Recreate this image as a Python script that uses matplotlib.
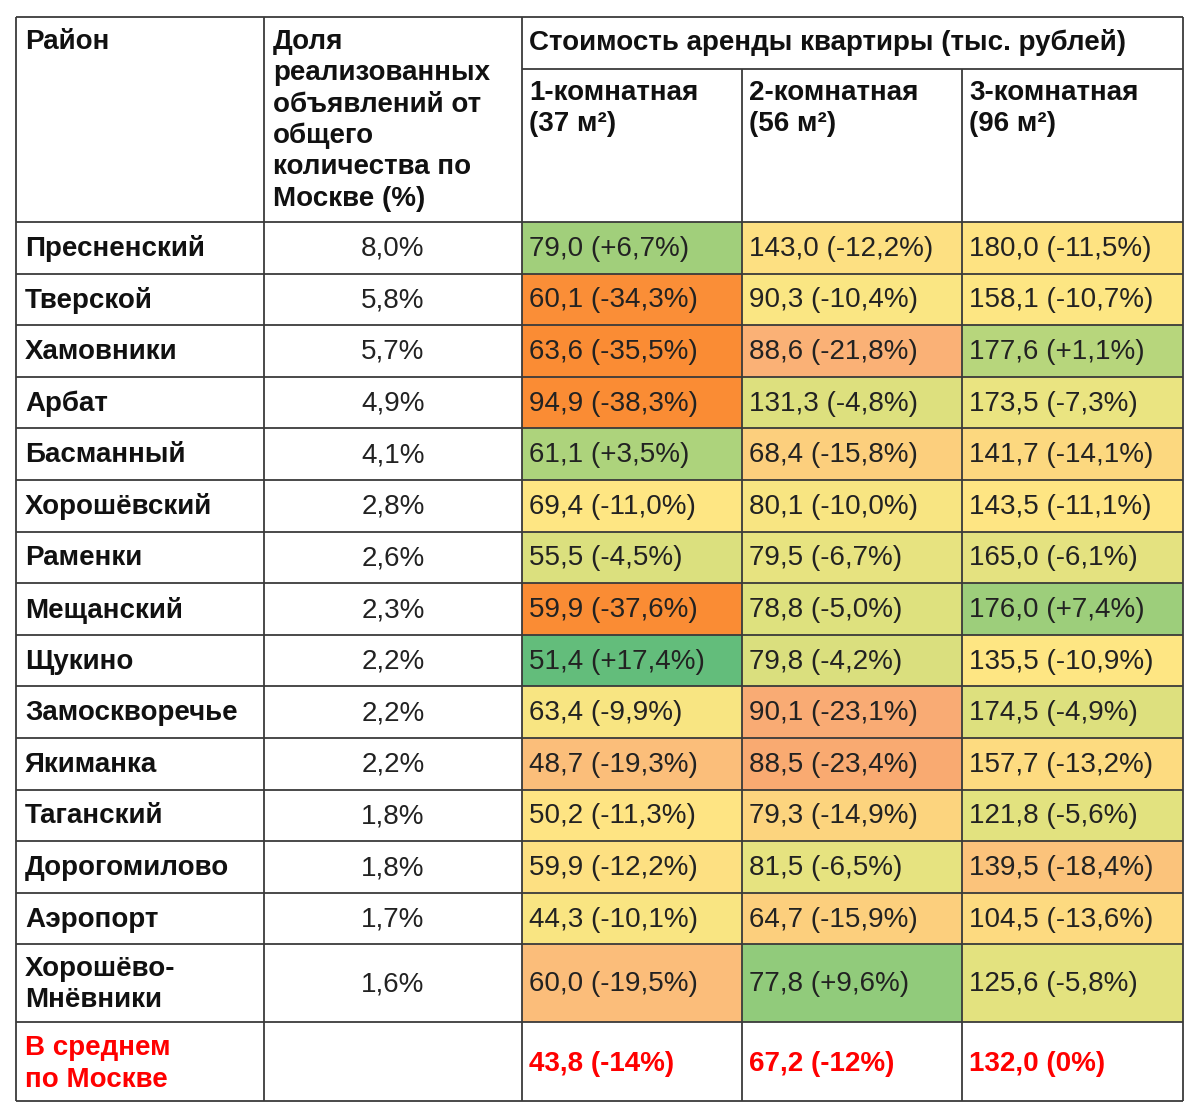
import numpy as np
import matplotlib
matplotlib.use('Agg')
import matplotlib.pyplot as plt
from matplotlib.colors import LinearSegmentedColormap, Normalize
from matplotlib.patches import Rectangle

districts = ['Пресненский', 'Тверской', 'Хамовники', 'Арбат', 'Басманный',
             'Хорошёвский', 'Раменки', 'Мещанский', 'Щукино', 'Замоскворечье',
             'Якиманка', 'Таганский', 'Дорогомилово', 'Аэропорт',
             'Хорошёво-\nМнёвники']
share = [8.0, 5.8, 5.7, 4.9, 4.1, 2.8, 2.6, 2.3, 2.2, 2.2, 2.2, 1.8, 1.8, 1.7, 1.6]

rent1 = [79.0, 60.1, 63.6, 94.9, 61.1, 69.4, 55.5, 59.9, 51.4, 63.4, 48.7, 50.2, 59.9, 44.3, 60.0]
chg1 = [6.7, -34.3, -35.5, -38.3, 3.5, -11.0, -4.5, -37.6, 17.4, -9.9, -19.3, -11.3, -12.2, -10.1, -19.5]
rent2 = [143.0, 90.3, 88.6, 131.3, 68.4, 80.1, 79.5, 78.8, 79.8, 90.1, 88.5, 79.3, 81.5, 64.7, 77.8]
chg2 = [-12.2, -10.4, -21.8, -4.8, -15.8, -10.0, -6.7, -5.0, -4.2, -23.1, -23.4, -14.9, -6.5, -15.9, 9.6]
rent3 = [180.0, 158.1, 177.6, 173.5, 141.7, 143.5, 165.0, 176.0, 135.5, 174.5, 157.7, 121.8, 139.5, 104.5, 125.6]
chg3 = [-11.5, -10.7, 1.1, -7.3, -14.1, -11.1, -6.1, 7.4, -10.9, -4.9, -13.2, -5.6, -18.4, -13.6, -5.8]

avg_label = 'В среднем\nпо Москве'
avg_rent = [43.8, 67.2, 132.0]
avg_chg = [-14, -12, 0]

col_titles = ['Район', 'Доля\nреализованных\nобъявлений от\nобщего\nколичества по\nМоскве (%)']
group_title = 'Стоимость аренды квартиры (тыс. рублей)'
room_titles = ['1-комнатная', '2-комнатная', '3-комнатная']
room_areas = ['(37 м²)', '(56 м²)', '(96 м²)']

# --- style ---
FONT = 'Liberation Sans'
FS = 20
LINE = '#3a3a3a'
RED = '#ff0000'

# colour scale of the change (%)
anchors = [(-35.0, '#fa8c34'), (-23.0, '#f9ab74'), (-19.0, '#fbc07b'),
           (-15.0, '#fcd37e'), (-11.0, '#fee683'), (-6.5, '#e6e380'),
           (-4.5, '#dce07e'), (1.0, '#b8d67c'), (7.0, '#a0cf7b'),
           (17.4, '#63bd7b')]
norm = Normalize(vmin=anchors[0][0], vmax=anchors[-1][0])
cmap = LinearSegmentedColormap.from_list(
    'chg', [(float(norm(v)), c) for v, c in anchors])

# layout in pixels
W, H = 1200, 1119
xs = [16, 264, 522, 742, 962, 1183]
top, sub_line, head_bot = 17, 69, 222
row_h = [51.6] * 14 + [78.0, 79.0]
ys = [head_bot]
for h in row_h:
    ys.append(ys[-1] + h)

fig = plt.figure(figsize=(W / 100, H / 100), dpi=100)
ax = fig.add_axes([0, 0, 1, 1])
ax.set_xlim(0, W)
ax.set_ylim(H, 0)
ax.axis('off')


def fmt(v, nd=1, sign=False):
    s = f'{v:+.{nd}f}' if sign and v > 0 else f'{v:.{nd}f}'
    return s.replace('.', ',')


# coloured cells
rents = [rent1, rent2, rent3]
chgs = [chg1, chg2, chg3]
for c in range(3):
    for r in range(len(districts)):
        ax.add_patch(Rectangle((xs[c + 2], ys[r]), xs[c + 3] - xs[c + 2], ys[r + 1] - ys[r],
                               facecolor=cmap(norm(chgs[c][r])), edgecolor='none', zorder=1))

# grid lines
lw = 1.3
ax.hlines([top, head_bot] + ys[1:], xs[0], xs[-1], color=LINE, lw=lw, zorder=3)
ax.hlines(sub_line, xs[2], xs[-1], color=LINE, lw=lw, zorder=3)
ax.vlines([xs[0], xs[1], xs[2], xs[-1]], top, ys[-1], color=LINE, lw=lw, zorder=3)
ax.vlines([xs[3], xs[4]], sub_line, ys[-1], color=LINE, lw=lw, zorder=3)

pad = 9
line_step = 31.3

# header
ax.text(xs[0] + pad, 42, col_titles[0], fontsize=FS, fontweight='bold', family=FONT,
        va='center', ha='left', color='#111111')
for i, ln in enumerate(col_titles[1].split('\n')):
    ax.text(xs[1] + pad, 42 + i * line_step, ln, fontsize=FS, fontweight='bold', family=FONT,
            va='center', ha='left', color='#111111')
ax.text(xs[2] + 7, 42, group_title, fontsize=FS, fontweight='bold', family=FONT,
        va='center', ha='left', color='#111111')
for c in range(3):
    ax.text(xs[c + 2] + 7, 93, room_titles[c], fontsize=FS, fontweight='bold', family=FONT,
            va='center', ha='left', color='#111111')
    ax.text(xs[c + 2] + 7, 93 + line_step, room_areas[c], fontsize=FS, fontweight='bold',
            family=FONT, va='center', ha='left', color='#111111')

# body rows
for r, name in enumerate(districts):
    yc = (ys[r] + ys[r + 1]) / 2 + 1
    lines = name.split('\n')
    y0 = yc - (len(lines) - 1) * line_step / 2
    for i, ln in enumerate(lines):
        ax.text(xs[0] + pad, y0 + i * line_step, ln, fontsize=FS, fontweight='bold',
                family=FONT, va='center', ha='left', color='#111111')
    ax.text((xs[1] + xs[2]) / 2, yc, fmt(share[r]) + '%', fontsize=FS, family=FONT,
            va='center', ha='center', color='#222222')
    for c in range(3):
        label = f'{fmt(rents[c][r])} ({fmt(chgs[c][r], sign=True)}%)'
        ax.text(xs[c + 2] + 7, yc, label, fontsize=FS, family=FONT,
                va='center', ha='left', color='#222222')

# average row
r = len(districts)
yc = (ys[r] + ys[r + 1]) / 2 + 2
for i, ln in enumerate(avg_label.split('\n')):
    ax.text(xs[0] + pad, yc - line_step / 2 + i * line_step, ln, fontsize=FS,
            fontweight='bold', family=FONT, va='center', ha='left', color=RED)
for c in range(3):
    label = f'{fmt(avg_rent[c])} ({fmt(avg_chg[c], nd=0, sign=True)}%)'
    ax.text(xs[c + 2] + 7, yc, label, fontsize=FS, fontweight='bold', family=FONT,
            va='center', ha='left', color=RED)

fig.savefig('out.png', dpi=100, facecolor='white')
